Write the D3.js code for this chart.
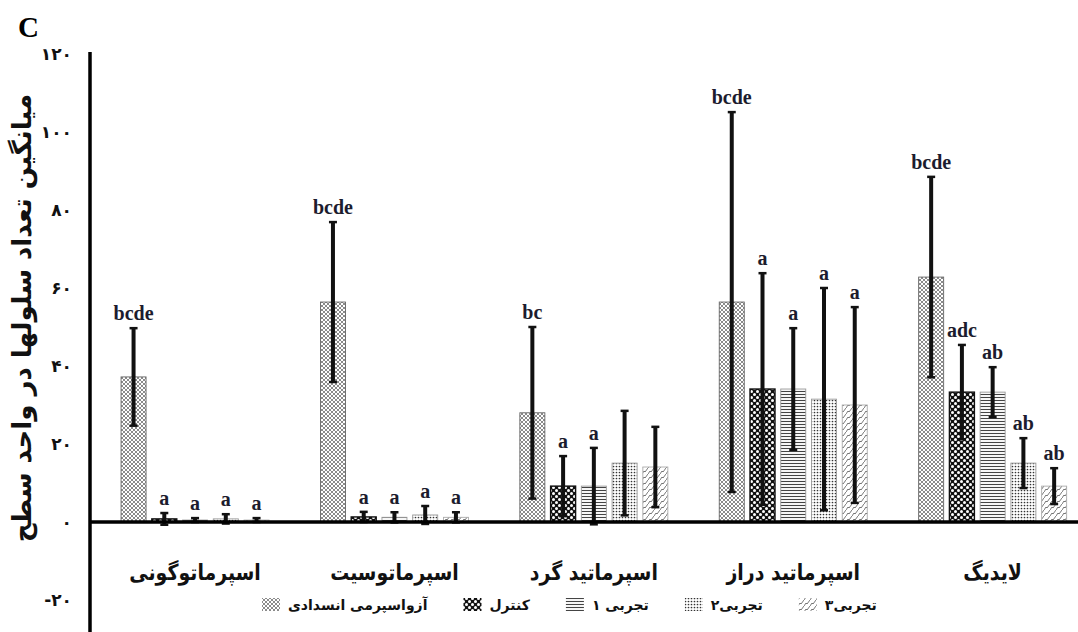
<!DOCTYPE html>
<html>
<head>
<meta charset="utf-8">
<script src="https://cdn.jsdelivr.net/npm/d3@7"></script>
<style>
body { margin: 0; background: #fff; }
</style>
</head>
<body>
<svg></svg>
<script>
// data
var categories = ["اسپرماتوگونی", "اسپرماتوسیت", "اسپرماتید گرد", "اسپرماتید دراز", "لایدیگ"]
var seriesNames = ["آزواسپرمی انسدادی", "کنترل", "تجربی ۱", "تجربی۲", "تجربی۳"]

var obstrMean = [37.2, 56.4, 28.0, 56.4, 62.8]
var controlMean = [0.8, 1.3, 9.2, 34.1, 33.3]
var exp1Mean = [0.5, 1.2, 9.2, 34.1, 33.3]
var exp2Mean = [0.8, 1.8, 15.1, 31.5, 15.1]
var exp3Mean = [0.5, 1.2, 14.1, 30.0, 9.2]

var obstrSd = [12.5, 20.5, 22.0, 48.7, 25.7]
var controlSd = [1.5, 1.3, 7.7, 29.7, 12.1]
var exp1Sd = [0.5, 1.3, 9.8, 15.6, 6.4]
var exp2Sd = [1.2, 2.3, 13.4, 28.5, 6.4]
var exp3Sd = [0.5, 1.3, 10.3, 25.1, 4.6]

var obstrLetters = ["bcde", "bcde", "bc", "bcde", "bcde"]
var controlLetters = ["a", "a", "a", "a", "adc"]
var exp1Letters = ["a", "a", "a", "a", "ab"]
var exp2Letters = ["a", "a", "", "a", "ab"]
var exp3Letters = ["a", "a", "", "a", "ab"]

var yTicks = [-20, 0, 20, 40, 60, 80, 100, 120]

var means = [obstrMean, controlMean, exp1Mean, exp2Mean, exp3Mean]
var sds = [obstrSd, controlSd, exp1Sd, exp2Sd, exp3Sd]
var letters = [obstrLetters, controlLetters, exp1Letters, exp2Letters, exp3Letters]

var screen = {width: 1078, height: 632}
var faDigits = "۰۱۲۳۴۵۶۷۸۹"
var toFa = function(n)
{
    return String(n).replace(/[0-9]/g, function(d) {return faDigits[+d]})
}

var svg = d3.select("svg")
    .attr("width", screen.width)
    .attr("height", screen.height)

// patterns for the five series
var defs = svg.append("defs")
var pat = function(id, w, h)
{
    var p = defs.append("pattern").attr("id", id)
        .attr("patternUnits", "userSpaceOnUse")
        .attr("width", w).attr("height", h)
    return p
}
var p0 = pat("pObstr", 4, 4)
p0.append("rect").attr("width", 4).attr("height", 4).attr("fill", "#fff")
p0.append("path").attr("d", "M0,0 L4,4 M4,0 L0,4").attr("stroke", "#7e7e7e").attr("stroke-width", 0.9)

var p1 = pat("pControl", 6, 6)
p1.append("rect").attr("width", 6).attr("height", 6).attr("fill", "#111")
p1.append("circle").attr("cx", 1.5).attr("cy", 1.5).attr("r", 1.5).attr("fill", "#fff")
p1.append("circle").attr("cx", 4.5).attr("cy", 4.5).attr("r", 1.5).attr("fill", "#fff")

var p2 = pat("pExp1", 4, 3)
p2.append("rect").attr("width", 4).attr("height", 3).attr("fill", "#fff")
p2.append("line").attr("x1", 0).attr("x2", 4).attr("y1", 1.5).attr("y2", 1.5).attr("stroke", "#444").attr("stroke-width", 1.1)

var p3 = pat("pExp2", 3, 3)
p3.append("rect").attr("width", 3).attr("height", 3).attr("fill", "#fff")
p3.append("circle").attr("cx", 1.5).attr("cy", 1.5).attr("r", 0.85).attr("fill", "#333")

var p4 = pat("pExp3", 6, 6)
p4.append("rect").attr("width", 6).attr("height", 6).attr("fill", "#fff")
p4.append("path").attr("d", "M0,6 L2,3 L3,4 L6,0 M-1,1 L1,-1 M5,7 L7,5").attr("fill", "none").attr("stroke", "#666").attr("stroke-width", 0.9)

var fills = ["url(#pObstr)", "url(#pControl)", "url(#pExp1)", "url(#pExp2)", "url(#pExp3)"]
var strokes = ["#666", "#111", "#999", "#999", "#aaa"]

// scales
var yscale = d3.scaleLinear().domain([-20, 120]).range([600, 54])

var x0 = d3.scaleBand().domain(categories)
    .range([95.35, 1092.35]).paddingInner(0.229).paddingOuter(0.1145)
var x1 = d3.scaleBand().domain(seriesNames)
    .range([0, x0.bandwidth()]).paddingInner(0.187).paddingOuter(0.0935)

// flatten to one list of bars
var bars = []
categories.forEach(function(c, ci)
{
    seriesNames.forEach(function(s, si)
    {
        bars.push({cat: c, ser: s, si: si, mean: means[si][ci], sd: sds[si][ci], letter: letters[si][ci]})
    })
})

var barX = function(d) {return x0(d.cat) + x1(d.ser)}
var barMid = function(d) {return barX(d) + x1.bandwidth() / 2}

svg.append("g").selectAll("rect")
    .data(bars)
    .enter()
    .append("rect")
    .attr("x", barX)
    .attr("y", function(d) {return yscale(d.mean)})
    .attr("width", x1.bandwidth())
    .attr("height", function(d) {return yscale(0) - yscale(d.mean)})
    .attr("fill", function(d) {return fills[d.si]})
    .attr("stroke", function(d) {return strokes[d.si]})
    .attr("stroke-width", function(d) {return d.si == 1 ? 1.4 : 0.9})

// error bars
var err = svg.append("g").selectAll("g")
    .data(bars)
    .enter()
    .append("g")
err.append("line")
    .attr("x1", barMid).attr("x2", barMid)
    .attr("y1", function(d) {return yscale(d.mean + d.sd)})
    .attr("y2", function(d) {return yscale(d.mean - d.sd)})
    .attr("stroke", "#111").attr("stroke-width", 4)
err.append("line")
    .attr("x1", function(d) {return barMid(d) - 4}).attr("x2", function(d) {return barMid(d) + 4})
    .attr("y1", function(d) {return yscale(d.mean + d.sd)})
    .attr("y2", function(d) {return yscale(d.mean + d.sd)})
    .attr("stroke", "#111").attr("stroke-width", 2.5)
err.append("line")
    .attr("x1", function(d) {return barMid(d) - 4}).attr("x2", function(d) {return barMid(d) + 4})
    .attr("y1", function(d) {return yscale(d.mean - d.sd)})
    .attr("y2", function(d) {return yscale(d.mean - d.sd)})
    .attr("stroke", "#111").attr("stroke-width", 2.5)

// significance letters
svg.append("g").selectAll("text")
    .data(bars.filter(function(d) {return d.letter != ""}))
    .enter()
    .append("text")
    .attr("x", barMid)
    .attr("y", function(d) {return yscale(d.mean + d.sd) - 8})
    .attr("text-anchor", "middle")
    .attr("font-family", "Liberation Serif")
    .attr("font-weight", "bold")
    .attr("font-size", 20)
    .attr("fill", "#1c1c2e")
    .text(function(d) {return d.letter})

// axes
var yAxis = d3.axisLeft(yscale).tickValues(yTicks).tickSize(0).tickPadding(18)
    .tickFormat(function(v) {return toFa(v)})
var ag = svg.append("g").attr("transform", "translate(90,0)").call(yAxis)
ag.select(".domain").remove()
ag.selectAll("text")
    .attr("font-family", "DejaVu Sans")
    .attr("font-weight", "bold")
    .attr("font-size", 17)
    .attr("fill", "#111")

svg.append("line")
    .attr("x1", 90).attr("x2", 90)
    .attr("y1", yscale(120) - 2).attr("y2", screen.height)
    .attr("stroke", "#000").attr("stroke-width", 3.5)
svg.append("line")
    .attr("x1", 90).attr("x2", screen.width)
    .attr("y1", yscale(0)).attr("y2", yscale(0))
    .attr("stroke", "#000").attr("stroke-width", 3.5)

// category names under the baseline
svg.append("g").selectAll("text")
    .data(categories)
    .enter()
    .append("text")
    .attr("transform", function(c) {return "translate(" + (x0(c) + x0.bandwidth() / 2) + ",580) scale(0.86,1)"})
    .attr("text-anchor", "middle")
    .attr("font-family", "DejaVu Sans")
    .attr("font-weight", "bold")
    .attr("font-size", 22)
    .attr("fill", "#111")
    .text(function(c) {return c})

// y title
svg.append("text")
    .attr("transform", "translate(31,318) rotate(-90)")
    .attr("text-anchor", "middle")
    .attr("font-family", "DejaVu Sans")
    .attr("font-weight", "bold")
    .attr("font-size", 26)
    .attr("fill", "#111")
    .text("میانگین تعداد سلولها در واحد سطح")

svg.append("text")
    .attr("x", 18).attr("y", 37)
    .attr("font-family", "Liberation Serif")
    .attr("font-weight", "bold")
    .attr("font-size", 29)
    .text("C")

// legend, laid out left to right
var lx = 262
seriesNames.forEach(function(s, si)
{
    svg.append("rect")
        .attr("x", lx).attr("y", 598)
        .attr("width", 18).attr("height", 13)
        .attr("fill", fills[si])
    var t = svg.append("text")
        .attr("x", lx + 26).attr("y", 610)
        .attr("font-family", "DejaVu Sans")
        .attr("font-weight", "bold")
        .attr("font-size", 14)
        .attr("fill", "#111")
        .text(s)
    lx = lx + 26 + t.node().getComputedTextLength() + 36
})
</script>
</body>
</html>
